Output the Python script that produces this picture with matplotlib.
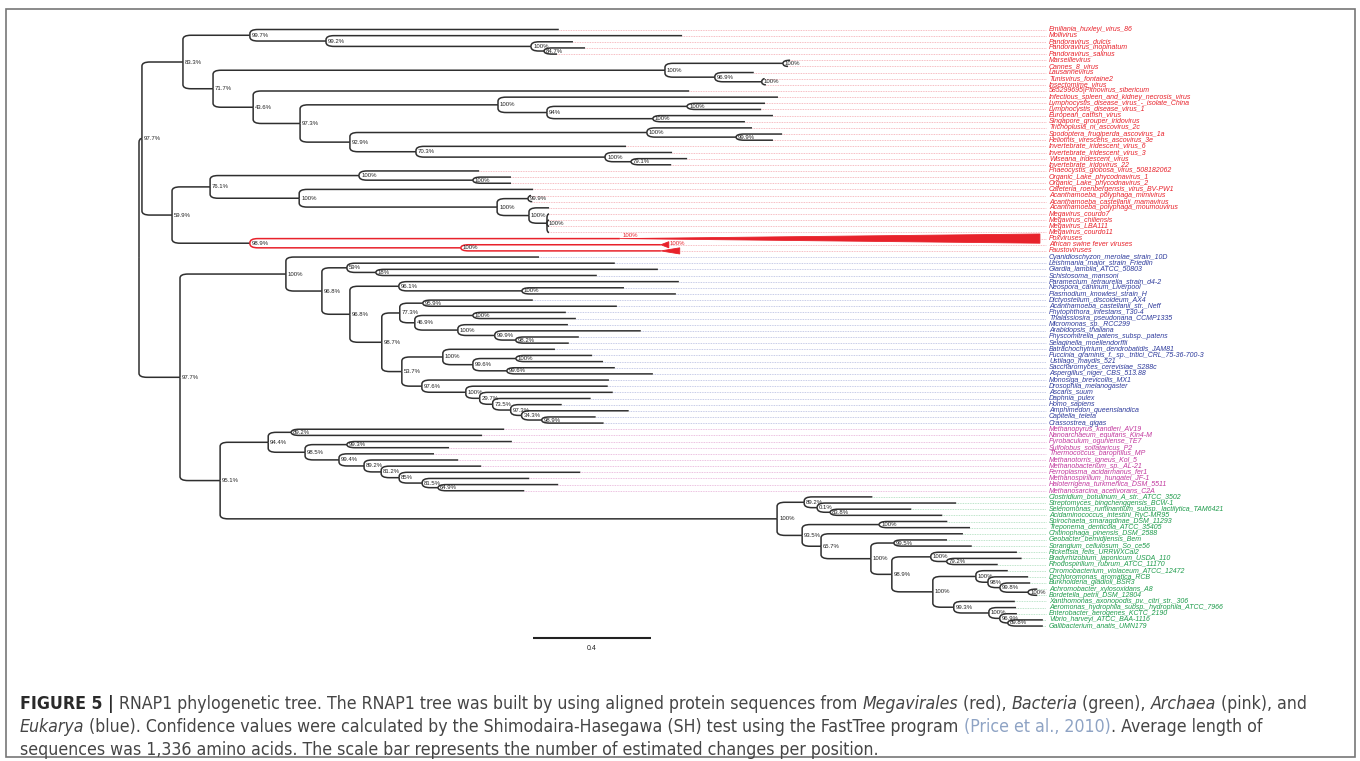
import matplotlib
matplotlib.use('Agg')
import numpy as np
import matplotlib.pyplot as plt
from matplotlib import font_manager
from matplotlib.path import Path
from matplotlib.patches import PathPatch, Polygon, Rectangle

plt.rcParams['font.family'] = ['Liberation Sans', 'DejaVu Sans']

# --- tree data (branch lengths in substitutions per site, SH support as node labels) ---
PANDORA_CLADE = ("(Emiliania_huxleyi_virus_86:1.047,(Mollivirus:1.207,(Pandoravirus_dulcis:0.142,"
                 "(Pandoravirus_inopinatum:0.139,Pandoravirus_salinus:0.044)84.7%:0.044)100%:0.695)99.2%:0.258)99.7%:0.227")
MARSEILLE_CLADE = ("((Marseillevirus:0.024,Cannes_8_virus:0.017)100%:0.400,(Lausannevirus:0.132,"
                   "(Tunisvirus_fontaine2:0.010,Insectomime_virus:0.014)100%:0.159)96.9%:0.169)100%:1.532")
IRIDO_CLADE = ("(Infectious_spleen_and_kidney_necrosis_virus:0.949,((Lymphocystis_disease_virus_-_isolate_China:0.264,"
               "Lymphocystis_disease_virus_1:0.251)100%:0.475,(European_catfish_virus:0.407,"
               "Singapore_grouper_iridovirus:0.312)100%:0.359)94%:0.166)100%:0.671")
ASCO_CLADE = ("((Trichoplusia_ni_ascovirus_2c:0.356,(Spodoptera_frugiperda_ascovirus_1a:0.156,"
              "Heliothis_virescens_ascovirus_3e:0.125)99.9%:0.302)100%:1.007,(Invertebrate_iridescent_virus_6:0.712,"
              "(Invertebrate_iridescent_virus_3:0.227,(Wiseana_iridescent_virus:0.190,"
              "Invertebrate_iridovirus_22:0.136)79.1%:0.088)100%:0.641)70.3%:0.224)92.9%:0.169")
PHYCO_CLADE = ("(Phaeocystis_globosa_virus_508182062:0.407,(Organic_Lake_phycodnavirus_1:0.129,"
               "Organic_Lake_phycodnavirus_2:0.129)100%:0.386)100%:0.505")
MIMI_CLADE = ("(Cafeteria_roenbergensis_virus_BV-PW1:0.793,((Acanthamoeba_polyphaga_mimivirus:0.010,"
              "Acanthamoeba_castellanii_mamavirus:0.014)99.9%:0.105,(Acanthamoeba_polyphaga_moumouvirus:0.068,"
              "(Megavirus_courdo7:0.007,Megavirus_chiliensis:0.007,Megavirus_LBA111:0.007,"
              "Megavirus_courdo11:0.007)100%:0.061)100%:0.108)100%:0.671)100%:0.302")
POX_CLADE = "(Poxviruses:1.254,(African swine fever viruses:0.678,Faustoviruses:0.678)100%:0.715)98.9%:0.264"

EUK_BASAL = ("(Leishmania_major_strain_Friedlin:0.908,(Giardia_lamblia_ATCC_50803:0.956,"
             "Schistosoma_mansoni:0.749)18%:0.098)59%:0.085")
EUK_ALVEO = ("(Paramecium_tetraurelia_strain_d4-2:0.949,(Neospora_caninum_Liverpool:0.346,"
             "Plasmodium_knowlesi_strain_H:0.522)100%:0.417)96.1%:0.166")
EUK_PLANT = ("((Dictyostelium_discoideum_AX4:0.373,Acanthamoeba_castellanii_str._Neff:0.658)95.9%:0.078,"
             "((Phytophthora_infestans_T30-4:0.315,Thalassiosira_pseudonana_CCMP1335:0.349)100%:0.197,"
             "(Micromonas_sp._RCC299:0.373,(Arabidopsis_thaliana:0.495,(Physcomitrella_patens_subsp._patens:0.214,"
             "Selaginella_moellendorffii:0.180)98.2%:0.071)99.9%:0.125)100%:0.146)46.9%:0.051)77.3%:0.061")
EUK_FUNGI = ("(Batrachochytrium_dendrobatidis_JAM81:0.380,((Puccinia_graminis_f._sp._tritici_CRL_75-36-700-3:0.258,"
             "Ustilago_maydis_521:0.295)100%:0.146,(Saccharomyces_cerevisiae_S288c:0.366,"
             "Aspergillus_niger_CBS_513.88:0.495)99.6%:0.115)99.6%:0.102)100%:0.139")
EUK_ANIMAL = ("(Monosiga_brevicollis_MX1:0.634,(Drosophila_melanogaster:0.481,(Ascaris_suum:0.451,"
              "(Daphnia_pulex:0.332,(Homo_sapiens:0.173,(Amphimedon_queenslandica:0.363,(Capitella_teleta:0.183,"
              "Crassostrea_gigas:0.210)98.9%:0.068)34.3%:0.037)97.3%:0.061)73.5%:0.044)29.7%:0.047)100%:0.149)97.6%:0.068")

ARCHAEA_CLADE = ("((Methanopyrus_kandleri_AV19:0.722,Nanoarchaeum_equitans_Kin4-M:0.647)89.2%:0.078,"
                 "((Pyrobaculum_oguniense_TE7:0.559,Sulfolobus_solfataricus_P2:0.346)99.3%:0.142,"
                 "(Thermococcus_barophilus_MP:0.322,(Methanotorris_igneus_Kol_5:0.319,(Methanobacterium_sp._AL-21:0.339,"
                 "(Ferroplasma_acidarmanus_fer1:0.614,(Methanospirillum_hungatei_JF-1:0.363,"
                 "(Haloterrigena_turkmenica_DSM_5511:0.407,Methanosarcina_acetivorans_C2A:0.292)64.9%:0.054)81.5%:0.078)"
                 "85%:0.061)81.2%:0.058)89.2%:0.085)99.4%:0.115)98.5%:0.125)94.4%:0.163")

BAC_FIRMI = ("(Clostridium_botulinum_A_str._ATCC_3502:0.231,(Streptomyces_bingchenggensis_BCW-1:0.471,"
             "(Selenomonas_ruminantium_subsp._lactilytica_TAM6421:0.275,Acidaminococcus_intestini_RyC-MR95:0.380)"
             "83.8%:0.044)0.1%:0.044)89.2%:0.092")
BAC_SPIRO = "(Spirochaeta_smaragdinae_DSM_11293:0.231,Treponema_denticola_ATCC_35405:0.308)100%:0.261"
BAC_DELTA = "(Geobacter_bemidjiensis_Bem:0.180,Sorangium_cellulosum_So_ce56:0.264)99.5%:0.078"
BAC_ALPHA = ("(Rickettsia_felis_URRWXCal2:0.292,(Bradyrhizobium_japonicum_USDA_110:0.254,"
             "Rhodospirillum_rubrum_ATCC_11170:0.173)79.2%:0.054)100%:0.132")
BAC_BETA = ("(Chromobacterium_violaceum_ATCC_12472:0.108,(Dechloromonas_aromatica_RCB:0.136,"
            "(Burkholderia_gladioli_BSR3:0.102,(Achromobacter_xylosoxidans_A8:0.031,"
            "Bordetella_petrii_DSM_12804:0.031)100%:0.095)99.8%:0.041)98%:0.041)100%:0.146")
BAC_GAMMA = ("(Xanthomonas_axonopodis_pv._citri_str._306:0.207,(Aeromonas_hydrophila_subsp._hydrophila_ATCC_7966:0.092,"
             "(Enterobacter_aerogenes_KCTC_2190:0.058,(Vibrio_harveyi_ATCC_BAA-1116:0.119,"
             "Gallibacterium_anatis_UMN179:0.119)89.8%:0.027)96.9%:0.037)100%:0.119)99.3%:0.071")

MEGAVIRALES = (f"(({PANDORA_CLADE},({MARSEILLE_CLADE},(585299695|Pithovirus_sibericum:1.478,"
               f"({IRIDO_CLADE},{ASCO_CLADE})97.3%:0.159)43.6%:0.136)71.7%:0.102)83.3%:0.139,"
               f"(({PHYCO_CLADE},{MIMI_CLADE})76.1%:0.129,{POX_CLADE})59.9%:0.102)97.7%:0.010")
EUKARYA = (f"(Cyanidioschyzon_merolae_strain_10D:0.858,({EUK_BASAL},({EUK_ALVEO},"
           f"({EUK_PLANT},({EUK_FUNGI},{EUK_ANIMAL})53.7%:0.068)98.7%:0.108)96.8%:0.095)96.8%:0.122)100%:0.359")
BACTERIA = (f"({BAC_FIRMI},({BAC_SPIRO},(Chitinophaga_pinensis_DSM_2588:0.481,({BAC_DELTA},"
            f"({BAC_ALPHA},({BAC_BETA},{BAC_GAMMA})100%:0.139)98.9%:0.071)100%:0.169)65.7%:0.064)93.5%:0.085)100%:1.888")
TREE = f"({MEGAVIRALES},({EUKARYA},({ARCHAEA_CLADE},{BACTERIA})95.1%:0.136)97.7%:0.139);"

# leaf groups in drawing order
GROUP_NAMES = ['Megavirales', 'Eukarya', 'Archaea', 'Bacteria']
GROUP_SIZES = [37, 28, 11, 22]
GROUP_COLORS = ['#e8222b', '#2e3b9c', '#c2389e', '#1f9c4c']
GUIDE_COLORS = ['#f4a7ae', '#b4bbe0', '#e6acd6', '#a9dcb9']

# collapsed clades: depth of the clade wedge and its support value
COLLAPSED_NAMES = ['Poxviruses', 'African swine fever viruses', 'Faustoviruses']
COLLAPSED_DEPTH = [1.424, 0.027, 0.064]
COLLAPSED_SUPPORT = ['100%', '100%', '']

SCALE_BAR = 0.4

# --- layout constants (pixels) ---
W_PX, H_PX = 1360, 761
PX_PER_UNIT = 295.0
ROOT_PX = 139.0
ROW0_PX = 29.5
ROW_PX = 6.15
LABEL_X = (1049 - ROOT_PX) / PX_PER_UNIT
RX = 8 / PX_PER_UNIT
RY = 4 / ROW_PX
BRANCH_COLOR = '#2f2f2f'


def parse_newick(s):
    pos = 0

    def node():
        nonlocal pos
        n = {'children': [], 'name': '', 'length': 0.0}
        if s[pos] == '(':
            pos += 1
            while True:
                n['children'].append(node())
                if s[pos] == ',':
                    pos += 1
                    continue
                if s[pos] == ')':
                    pos += 1
                    break
        start = pos
        while pos < len(s) and s[pos] not in ':,();':
            pos += 1
        n['name'] = s[start:pos].strip()
        if pos < len(s) and s[pos] == ':':
            pos += 1
            start = pos
            while pos < len(s) and s[pos] not in ',();':
                pos += 1
            n['length'] = float(s[start:pos])
        return n

    return node()


def layout(n, depth, leaves):
    n['x'] = depth + n['length']
    if n['children']:
        for c in n['children']:
            layout(c, n['x'], leaves)
        n['y'] = (n['children'][0]['y'] + n['children'][-1]['y']) / 2
        n['leafset'] = set().union(*[c['leafset'] for c in n['children']])
    else:
        n['y'] = len(leaves)
        n['leafset'] = {n['name']}
        leaves.append(n)


def elbow_path(xp, yp, xc, yc):
    dy = yc - yp
    if abs(dy) < 1e-9:
        return Path([(xp, yp), (xc, yc)], [Path.MOVETO, Path.LINETO])
    s = np.sign(dy)
    ry = min(RY, abs(dy))
    rx = min(RX, max(xc - xp, 1e-6))
    verts = [(xp, yp), (xp, yc - s * ry), (xp, yc), (xp + rx, yc), (xc, yc)]
    codes = [Path.MOVETO, Path.LINETO, Path.CURVE3, Path.CURVE3, Path.LINETO]
    return Path(verts, codes)


def draw_edges(ax, n):
    red_node = n['leafset'] <= set(COLLAPSED_NAMES)
    for c in n['children']:
        col = GROUP_COLORS[0] if red_node else BRANCH_COLOR
        ax.add_patch(PathPatch(elbow_path(n['x'], n['y'], c['x'], c['y']),
                               fill=False, ec=col, lw=1.1, capstyle='butt'))
        draw_edges(ax, c)
    if n['children'] and n['name']:
        ax.text(n['x'] + 2 / PX_PER_UNIT, n['y'], n['name'], fontsize=4.3,
                color='#222222', ha='left', va='center')


def caption_font():
    names = {(f.name, f.stretch) for f in font_manager.fontManager.ttflist}
    if any(n == 'Liberation Sans Narrow' for n, _ in names):
        return {'family': 'Liberation Sans Narrow'}
    if ('DejaVu Sans', 'condensed') in names:
        return {'family': 'DejaVu Sans', 'fontstretch': 'condensed'}
    return {'family': 'Liberation Sans'}


def draw_runs(fig, x_px, y_px, runs, size, renderer, font):
    texts = []
    x = x_px
    for txt, style in runs:
        kw = dict(fontsize=size, color='#454545', va='center', ha='left', **font)
        if style == 'bold':
            kw.update(fontweight='bold', color='#2a2a2a')
        elif style == 'italic':
            kw.update(fontstyle='italic')
        elif style == 'cite':
            kw.update(color='#8ea3c4')
        t = fig.text(x / W_PX, 1 - y_px / H_PX, txt, **kw)
        texts.append(t)
        x += t.get_window_extent(renderer).width
    return texts, x


fig = plt.figure(figsize=(W_PX / 100, H_PX / 100), dpi=100)
ax = fig.add_axes([0, 0, 1, 1])
ax.set_xlim(-ROOT_PX / PX_PER_UNIT, (W_PX - ROOT_PX) / PX_PER_UNIT)
ax.set_ylim((H_PX - ROW0_PX) / ROW_PX, -ROW0_PX / ROW_PX)
ax.axis('off')

root = parse_newick(TREE)
leaves = []
layout(root, 0.0, leaves)
draw_edges(ax, root)

group_of = np.repeat(np.arange(len(GROUP_SIZES)), GROUP_SIZES)
for i, leaf in enumerate(leaves):
    g = group_of[i]
    tip = leaf['x']
    if leaf['name'] in COLLAPSED_NAMES:
        k = COLLAPSED_NAMES.index(leaf['name'])
        d = COLLAPSED_DEPTH[k]
        h = 0.75 if d > 0.5 else 0.5
        ax.add_patch(Polygon([(tip, leaf['y']), (tip + d, leaf['y'] - h), (tip + d, leaf['y'] + h)],
                             closed=True, fc=GROUP_COLORS[0], ec=GROUP_COLORS[0], lw=0.6))
        if COLLAPSED_SUPPORT[k]:
            off = 3 / PX_PER_UNIT if d > 0.5 else d + 1 / PX_PER_UNIT
            ax.text(tip + off, leaf['y'] - 0.15, COLLAPSED_SUPPORT[k], fontsize=4.3,
                    color=GROUP_COLORS[0], ha='left', va='bottom' if d > 0.5 else 'center')
        tip = tip + d
    ax.plot([tip, LABEL_X - 3 / PX_PER_UNIT], [leaf['y'], leaf['y']], ls=(0, (1, 1)),
            lw=0.6, color=GUIDE_COLORS[g])
    ax.text(LABEL_X, leaf['y'], leaf['name'], fontsize=5.0, fontstyle='italic',
            color=GROUP_COLORS[g], ha='left', va='center')

# scale bar
sb_x0 = (533 - ROOT_PX) / PX_PER_UNIT
sb_y = (638 - ROW0_PX) / ROW_PX
ax.plot([sb_x0, sb_x0 + SCALE_BAR], [sb_y, sb_y], color='#222222', lw=1.5, solid_capstyle='butt')
ax.text(sb_x0 + SCALE_BAR / 2, sb_y + 1.7, f'{SCALE_BAR:g}', fontsize=5, color='#222222',
        ha='center', va='center')

# frame
fig.patches.append(Rectangle((6 / W_PX, 4 / H_PX), (1355 - 6) / W_PX, (757 - 9) / H_PX,
                             transform=fig.transFigure, fill=False, ec='#777777', lw=1.2))

# caption
CAPTION = [
    [('FIGURE 5 |', 'bold'),
     (' RNAP1 phylogenetic tree. The RNAP1 tree was built by using aligned protein sequences from ', 'normal'),
     ('Megavirales', 'italic'), (' (red), ', 'normal'), ('Bacteria', 'italic'), (' (green), ', 'normal'),
     ('Archaea', 'italic'), (' (pink), and', 'normal')],
    [('Eukarya', 'italic'),
     (' (blue). Confidence values were calculated by the Shimodaira-Hasegawa (SH) test using the FastTree program ', 'normal'),
     ('(Price et al., 2010)', 'cite'), ('. Average length of', 'normal')],
    [('sequences was 1,336 amino acids. The scale bar represents the number of estimated changes per position.', 'normal')],
]
CAPTION_Y = [704, 727, 750]

renderer = fig.canvas.get_renderer()
font = caption_font()
probe, end = draw_runs(fig, 20, CAPTION_Y[0], CAPTION[0], 12, renderer, font)
size = min(12 * (1308 - 20) / (end - 20), 12.8)
for t in probe:
    t.remove()
for runs, y in zip(CAPTION, CAPTION_Y):
    draw_runs(fig, 20, y, runs, size, renderer, font)

fig.savefig('out.png', dpi=100)
